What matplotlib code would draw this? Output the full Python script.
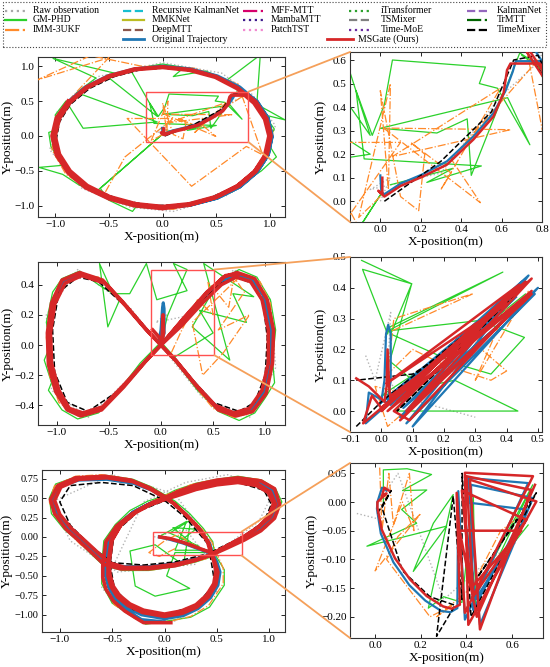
import numpy as np
import matplotlib.pyplot as plt
from matplotlib.lines import Line2D
from matplotlib.patches import Rectangle, ConnectionPatch

plt.rcParams['font.family'] = ['Liberation Serif', 'DejaVu Serif']

# ---------------- row 1 : circle ----------------
truth_1 = [(0.0, 0.11), (0.005, 0.04), (0.02, 0.03), (0.10, 0.075), (0.21, 0.115), (0.33, 0.17), (0.46, 0.275),
           (0.56, 0.375), (0.62, 0.47), (0.655, 0.55), (0.67, 0.595), (0.79, 0.595), (0.88, 0.5), (0.985, 0.25),
           (1.02, -0.01), (0.985, -0.27), (0.88, -0.52), (0.72, -0.73), (0.51, -0.89), (0.26, -0.99), (0.0, -1.03),
           (-0.26, -0.99), (-0.51, -0.89), (-0.72, -0.73), (-0.88, -0.52), (-0.985, -0.27), (-1.02, -0.01),
           (-0.985, 0.25), (-0.88, 0.49), (-0.72, 0.70), (-0.51, 0.86), (-0.26, 0.96), (0.0, 1.0), (0.26, 0.96),
           (0.51, 0.86), (0.72, 0.70), (0.88, 0.49), (0.985, 0.25), (1.02, -0.01), (0.985, -0.27), (0.88, -0.52),
           (0.72, -0.73), (0.51, -0.89), (0.26, -0.99), (0.0, -1.03), (-0.26, -0.99)]
msgate_1 = [(0.01, 0.10), (0.01, 0.03), (-0.01, 0.045), (0.02, 0.02), (0.10, 0.065), (0.21, 0.105), (0.33, 0.156),
            (0.46, 0.262), (0.56, 0.36), (0.61, 0.46), (0.627, 0.557), (0.644, 0.585), (0.79, 0.585), (0.87, 0.49),
            (0.97, 0.25), (1.01, 0.0), (0.975, -0.26), (0.87, -0.51), (0.71, -0.72), (0.5, -0.88), (0.26, -0.98),
            (0.0, -1.02), (-0.26, -0.98), (-0.5, -0.88), (-0.71, -0.72), (-0.87, -0.51), (-0.97, -0.26), (-1.01, 0.0),
            (-0.97, 0.25), (-0.87, 0.49), (-0.71, 0.7), (-0.5, 0.86), (-0.26, 0.96), (0.0, 0.99), (0.26, 0.95),
            (0.5, 0.85), (0.7, 0.69), (0.86, 0.48), (0.96, 0.24), (1.0, -0.01), (0.965, -0.27), (0.86, -0.5),
            (0.7, -0.71), (0.49, -0.87), (0.25, -0.97), (0.0, -1.01), (-0.25, -0.97), (-0.49, -0.87), (-0.7, -0.71),
            (-0.86, -0.5), (-0.96, -0.26), (-1.0, 0.0), (-0.96, 0.25), (-0.86, 0.48), (-0.7, 0.69), (-0.49, 0.85),
            (-0.25, 0.95), (0.0, 0.98), (0.25, 0.94), (0.49, 0.84), (0.69, 0.68), (0.85, 0.47), (0.95, 0.24),
            (0.99, 0.0), (0.95, -0.28), (0.85, -0.52), (0.69, -0.72), (0.49, -0.88), (0.25, -0.99), (0.0, -1.04),
            (-0.26, -1.0), (-0.5, -0.9), (-0.72, -0.74), (-0.88, -0.53), (-0.99, -0.27), (-1.03, 0.0),
            (-0.99, 0.26), (-0.88, 0.5)]
timemixer_1 = [(0.02, 0.0), (0.3, 0.17), (0.55, 0.38), (0.66, 0.6), (0.78, 0.62), (0.93, 0.35), (0.99, 0.05),
               (0.96, -0.25), (0.85, -0.5), (0.68, -0.72), (0.45, -0.88), (0.2, -0.98), (-0.1, -1.0), (-0.4, -0.91),
               (-0.66, -0.75), (-0.85, -0.55), (-0.96, -0.3), (-0.99, -0.05), (-0.96, 0.2), (-0.86, 0.45),
               (-0.68, 0.68), (-0.45, 0.85), (-0.2, 0.95), (0.1, 0.98), (0.4, 0.9), (0.65, 0.72), (0.82, 0.52),
               (0.95, 0.3)]
gmphd_1 = [(0.05, 0.07), (0.36, 0.14), (0.23, 0.08), (0.50, 0.15), (-0.08, 0.18), (-0.12, 0.47), (-0.04, 0.28),
           (0.02, 0.41), (0.06, 0.60), (0.52, 0.57), (0.49, 0.50), (0.58, 0.48), (0.74, 0.24), (0.63, 0.44),
           (0.0, 0.31), (0.28, 0.29), (0.43, 0.35), (0.45, 0.11), (0.69, 0.63), (0.78, 0.58), (0.81, 0.51),
           (1.14, 0.23), (0.95, 0.3), (1.04, 0.1), (0.98, -0.1), (1.06, -0.3), (0.92, -0.5), (0.8, -0.62),
           (0.65, -0.8), (0.45, -0.9), (0.28, -0.97), (0.05, -1.04), (-0.25, -1.02), (-0.28, -1.08), (-0.5, -0.92),
           (-0.58, -0.75), (0.01, 0.04), (-0.62, -0.8), (-0.78, -0.7), (-0.93, -0.55), (-1.15, -0.45),
           (-0.93, -0.42), (-1.04, -0.15), (-1.06, 0.05), (-0.97, 0.1), (-1.0, 0.3), (-0.9, 0.5), (-0.74, 0.11),
           (-0.05, 0.2), (-0.8, 0.62), (-0.62, 0.83), (-1.02, 1.11), (-0.45, 0.9), (-0.49, 0.82), (-0.05, 0.28),
           (-0.3, 0.95), (0.0, 1.03), (0.2, 0.98), (0.1, 0.85), (0.4, 0.93), (0.6, 0.8), (0.91, 1.16), (0.88, 0.51),
           (0.7, 0.62)]
imm_1 = [(0.0, 0.02), (-0.107, -0.069), (0.05, 0.50), (0.04, 0.05), (0.0, 0.47), (0.1, 0.02), (0.19, -0.04),
         (0.22, 0.2), (0.15, 0.25), (0.35, 0.12), (0.3, 0.05), (0.594, 0.48), (0.06, 0.19), (0.644, 0.304),
         (0.016, 0.311), (0.495, -0.006), (0.35, 0.18), (0.78, 0.6), (0.95, 0.35), (1.03, 0.05), (0.97, -0.3),
         (0.78, -0.15), (0.27, -0.72), (-0.33, 0.25), (0.1, 0.25), (-0.35, -0.3), (-0.55, -0.85), (-0.3, -1.0),
         (0.1, -1.05), (0.5, -0.9), (0.8, -0.65), (0.95, -0.35), (0.7, 0.75), (0.3, 0.97), (-0.2, 1.0),
         (-0.67, 1.15), (-1.17, 0.8), (-0.5, 1.12), (-0.85, 0.55), (-1.0, 0.2), (-1.03, -0.2), (-0.9, -0.55),
         (-0.65, -0.8)]
raw_1 = [(0.0, 0.0), (0.05, 0.1), (-0.05, 0.05), (0.3, 0.12), (0.6, 0.45), (0.82, 0.62), (1.05, 0.15),
         (0.95, -0.4), (0.6, -0.85), (0.1, -1.08), (-0.3, -1.02), (-0.75, -0.75), (-1.05, -0.2), (-0.98, 0.35),
         (-0.6, 0.85), (0.0, 1.05), (0.55, 0.9), (0.9, 0.5)]

# ---------------- row 2 : figure eight ----------------
truth_2 = [(-0.02, 0.02), (0.0, 0.1), (0.015, 0.25), (0.022, 0.28), (0.03, 0.24), (0.03, 0.08), (0.0, 0.0),
           (0.2, 0.15), (0.4, 0.3), (0.58, 0.42), (0.72, 0.47), (0.88, 0.44), (1.0, 0.32), (1.06, 0.12),
           (1.06, -0.1), (1.0, -0.3), (0.88, -0.43), (0.72, -0.46), (0.55, -0.42), (0.35, -0.28), (0.15, -0.11),
           (0.0, 0.0), (-0.15, 0.11), (-0.35, 0.27), (-0.55, 0.42), (-0.77, 0.47), (-0.93, 0.42), (-1.03, 0.28),
           (-1.08, 0.08), (-1.07, -0.12), (-1.0, -0.3), (-0.9, -0.42), (-0.77, -0.46), (-0.57, -0.42),
           (-0.35, -0.27), (-0.15, -0.11), (0.0, 0.0), (0.22, 0.16), (0.42, 0.32), (0.6, 0.44), (0.72, 0.47),
           (0.86, 0.44), (0.98, 0.33), (1.04, 0.12), (1.05, -0.12), (0.98, -0.32), (0.86, -0.44), (0.7, -0.46),
           (0.52, -0.4), (0.33, -0.26), (0.14, -0.1), (0.0, 0.0)]
msgate_2 = [(-0.08, 0.1), (0.01, 0.03), (0.02, 0.2), (0.025, 0.08), (0.0, 0.0), (0.2, 0.16), (0.42, 0.33),
            (0.6, 0.45), (0.73, 0.48), (0.9, 0.44), (1.02, 0.3), (1.08, 0.1), (1.07, -0.12), (1.01, -0.32),
            (0.88, -0.44), (0.72, -0.47), (0.55, -0.43), (0.35, -0.28), (0.15, -0.11), (0.0, 0.0), (-0.15, 0.11),
            (-0.36, 0.28), (-0.56, 0.43), (-0.78, 0.48), (-0.95, 0.43), (-1.05, 0.28), (-1.09, 0.08),
            (-1.08, -0.13), (-1.01, -0.31), (-0.9, -0.43), (-0.77, -0.47), (-0.57, -0.43), (-0.36, -0.28),
            (-0.15, -0.11), (0.0, 0.0), (0.2, 0.13), (0.4, 0.28), (0.58, 0.4), (0.72, 0.45), (0.86, 0.42),
            (0.97, 0.3), (1.03, 0.1), (1.03, -0.12), (0.97, -0.3), (0.85, -0.42), (0.7, -0.45), (0.52, -0.4),
            (0.33, -0.26), (0.14, -0.1), (0.0, 0.0), (-0.14, 0.1), (-0.34, 0.26), (-0.54, 0.41), (-0.76, 0.46),
            (-0.92, 0.41), (-1.02, 0.27), (-1.06, 0.08), (-1.05, -0.12), (-0.98, -0.3), (-0.88, -0.42),
            (-0.75, -0.45), (-0.56, -0.41), (-0.35, -0.26), (-0.14, -0.1), (0.0, 0.0), (0.22, 0.18), (0.44, 0.35),
            (0.62, 0.46), (0.74, 0.47)]
timemixer_2 = [(-0.02, -0.02), (0.3, 0.22), (0.55, 0.4), (0.72, 0.45), (0.87, 0.41), (0.98, 0.28), (1.02, 0.05),
               (1.0, -0.2), (0.9, -0.38), (0.75, -0.44), (0.5, -0.38), (0.2, -0.15), (0.0, 0.0), (-0.3, 0.23),
               (-0.6, 0.42), (-0.8, 0.45), (-0.98, 0.35), (-1.04, 0.1), (-1.02, -0.18), (-0.9, -0.38),
               (-0.7, -0.44), (-0.4, -0.3), (-0.1, -0.07)]
gmphd_2 = [(0.0, 0.0), (0.06, 0.19), (0.25, 0.5), (0.12, 0.54), (0.25, 0.36), (-0.04, 0.3), (-0.14, 0.54),
           (-0.3, 0.34), (-0.46, 0.34), (-0.59, 0.54), (-0.51, 0.12), (-0.39, 0.31), (-0.6, 0.4), (-0.78, 0.49),
           (-0.95, 0.44), (-1.04, 0.35), (-1.1, 0.15), (-1.06, 0.0), (-1.12, -0.1), (-1.05, -0.25), (-1.08, -0.3),
           (-0.95, -0.43), (-0.8, -0.49), (-0.6, -0.45), (-0.4, -0.3), (-0.2, -0.12), (0.0, 0.02), (0.13, -0.08),
           (0.5, 0.08), (0.37, 0.23), (0.82, 0.15), (0.69, 0.34), (0.89, 0.32), (0.41, 0.54), (0.66, -0.1),
           (0.3, 0.12), (0.55, 0.42), (0.75, 0.5), (0.92, 0.45), (1.05, 0.3), (1.1, 0.1), (1.07, -0.1),
           (1.09, -0.25), (1.0, -0.35), (0.9, -0.45), (0.75, -0.5), (0.55, -0.44), (0.35, -0.3), (0.15, -0.12),
           (0.0, 0.0)]
imm_2 = [(0.1, -0.05), (0.2, 0.1), (0.35, 0.3), (0.5, 0.2), (0.45, 0.42), (0.65, 0.25), (0.7, 0.45), (0.8, 0.35),
         (0.55, 0.1), (0.85, 0.2), (0.6, -0.05), (0.4, -0.2), (0.3, 0.15), (0.75, 0.45), (0.95, 0.42),
         (1.05, 0.28), (1.08, 0.05), (1.05, -0.2), (1.0, -0.33), (0.87, -0.45), (0.7, -0.48), (0.5, -0.42),
         (0.3, -0.25), (0.1, -0.08), (-0.1, 0.08), (-0.4, 0.3), (-0.6, 0.45), (-0.8, 0.47), (-0.97, 0.42),
         (-1.06, 0.25), (-1.1, 0.05), (-1.07, -0.2), (-0.98, -0.38), (-0.8, -0.47), (-0.6, -0.44),
         (-0.35, -0.28), (-0.1, -0.08)]
raw_2 = [(0.0, 0.0), (0.05, 0.2), (-0.05, 0.15), (0.3, 0.2), (0.7, 0.5), (1.05, 0.3), (1.1, -0.15), (0.85, -0.48),
         (0.4, -0.35), (-0.3, 0.25), (-0.8, 0.5), (-1.1, 0.2), (-1.05, -0.3), (-0.7, -0.48), (-0.2, -0.15)]

# zoomed detail of row 2
truth_2z = [(0.0, 0.03), (0.01, 0.10), (0.015, 0.25), (0.022, 0.28), (0.03, 0.25), (0.03, 0.10), (0.02, 0.03),
            (0.47, 0.44), (0.10, -0.05), (0.50, 0.40), (0.06, -0.02), (0.44, 0.40), (-0.01, 0.02), (0.40, 0.36),
            (-0.05, -0.04), (-0.04, 0.06), (0.03, 0.02), (0.45, 0.42), (0.08, -0.04), (0.49, 0.38),
            (0.07, 0.01), (0.43, 0.37)]
msgate_2z = [(-0.08, 0.106), (-0.04, 0.08), (0.01, 0.03), (0.017, 0.08), (0.02, 0.2), (0.025, 0.08), (0.03, 0.03),
             (0.0, 0.0), (0.48, 0.43), (0.06, -0.03), (0.48, 0.38), (0.02, 0.0), (0.44, 0.41), (0.017, 0.09),
             (0.40, 0.35), (-0.058, -0.04), (-0.03, 0.05), (0.0, 0.01), (0.46, 0.42), (0.04, 0.0), (0.09, -0.03),
             (0.48, 0.39), (0.05, 0.03), (0.42, 0.39), (0.08, 0.0), (0.47, 0.37), (0.03, 0.05), (0.10, 0.08),
             (0.3, 0.28)]
timemixer_2z = [(-0.08, -0.05), (0.0, 0.03), (0.45, 0.40), (0.05, 0.0), (0.30, 0.25), (0.10, 0.12),
                (-0.08, 0.10)]
gmphd_2z = [(-0.063, 0.489), (0.097, 0.413), (-0.06, 0.46), (0.02, 0.25), (0.027, 0.273), (0.388, 0.451),
            (0.02, 0.26), (0.314, 0.294), (0.457, 0.239), (0.35, 0.12), (0.25, 0.15), (0.03, 0.25), (0.097, 0.413),
            (0.027, 0.162), (0.10, 0.10), (0.049, 0.0), (0.436, 0.0), (0.234, 0.1), (0.0, 0.05), (0.3, 0.25),
            (0.46, 0.38)]
imm_2z = [(0.038, 0.262), (0.293, 0.381), (0.04, 0.3), (0.02, 0.12), (0.1, 0.2), (0.2, 0.15), (0.35, 0.1),
          (0.4, 0.13), (0.32, 0.2), (0.1, 0.05), (-0.02, 0.08), (0.02, -0.05), (0.25, 0.15), (0.42, 0.38),
          (0.3, 0.1), (0.47, 0.39)]
raw_2z = [(-0.05, 0.18), (-0.02, 0.1), (0.03, 0.32), (0.02, 0.12), (0.05, 0.05), (0.3, -0.02)]

# ---------------- row 3 : trefoil ----------------
truth_3 = [(-0.05, 0.0), (0.05, -0.03), (0.18, -0.08), (0.32, -0.15), (0.46, -0.22), (0.6, -0.12), (0.75, -0.02),
           (0.9, 0.1), (1.03, 0.25), (1.085, 0.42), (1.03, 0.6), (0.9, 0.7), (0.7, 0.74), (0.5, 0.71), (0.3, 0.65),
           (0.12, 0.57), (0.0, 0.5), (-0.14, 0.43), (-0.3, 0.32), (-0.44, 0.16), (-0.53, -0.05), (-0.56, -0.36),
           (-0.56, -0.5), (-0.53, -0.65), (-0.47, -0.78), (-0.37, -0.9), (-0.22, -1.0), (0.0, -1.05),
           (0.18, -1.01), (0.32, -0.92), (0.44, -0.78), (0.51, -0.62), (0.53, -0.45), (0.5, -0.32), (0.46, -0.22),
           (0.43, -0.08), (0.34, 0.1), (0.22, 0.27), (0.1, 0.42), (0.0, 0.5), (-0.12, 0.6), (-0.3, 0.69),
           (-0.55, 0.74), (-0.82, 0.73), (-1.0, 0.65), (-1.07, 0.48), (-1.03, 0.3), (-0.92, 0.12), (-0.78, -0.05),
           (-0.66, -0.2), (-0.56, -0.32), (-0.4, -0.38), (-0.15, -0.38), (0.1, -0.34), (0.3, -0.28),
           (0.46, -0.22), (0.6, -0.12), (0.75, -0.02), (0.9, 0.1), (1.03, 0.25), (1.085, 0.42), (1.03, 0.6),
           (0.9, 0.7), (0.7, 0.74), (0.5, 0.71), (0.3, 0.65), (0.12, 0.57), (0.0, 0.5), (-0.14, 0.43),
           (-0.3, 0.32), (-0.44, 0.16), (-0.53, -0.05), (-0.56, -0.36), (-0.56, -0.5), (-0.53, -0.65),
           (-0.47, -0.8), (-0.36, -0.94), (-0.22, -1.06), (0.0, -1.09)]
msgate_3 = [(-0.045, 0.0), (0.05, -0.02), (0.18, -0.07), (0.32, -0.14), (0.46, -0.21), (0.6, -0.11), (0.75, 0.0),
            (0.89, 0.12), (1.01, 0.26), (1.06, 0.42), (1.01, 0.58), (0.89, 0.68), (0.7, 0.72), (0.5, 0.69),
            (0.3, 0.63), (0.12, 0.55), (0.0, 0.49), (-0.13, 0.42), (-0.28, 0.31), (-0.42, 0.15), (-0.51, -0.05),
            (-0.54, -0.35), (-0.54, -0.5), (-0.51, -0.64), (-0.45, -0.77), (-0.35, -0.88), (-0.21, -0.97),
            (0.0, -1.02), (0.17, -0.98), (0.31, -0.9), (0.42, -0.77), (0.49, -0.61), (0.51, -0.45), (0.48, -0.32),
            (0.45, -0.21), (0.42, -0.07), (0.33, 0.11), (0.21, 0.28), (0.09, 0.43), (-0.01, 0.51), (-0.13, 0.61),
            (-0.3, 0.71), (-0.55, 0.76), (-0.82, 0.74), (-0.99, 0.64), (-1.05, 0.47), (-1.0, 0.29), (-0.89, 0.11),
            (-0.75, -0.06), (-0.63, -0.21), (-0.53, -0.33), (-0.38, -0.39), (-0.14, -0.39), (0.1, -0.35),
            (0.3, -0.29), (0.45, -0.23), (0.6, -0.14), (0.76, -0.04), (0.92, 0.08), (1.05, 0.24), (1.1, 0.42),
            (1.05, 0.62), (0.92, 0.72), (0.7, 0.76), (0.5, 0.73), (0.3, 0.67), (0.12, 0.58), (0.01, 0.51),
            (-0.12, 0.44), (-0.27, 0.33), (-0.41, 0.17), (-0.5, -0.04), (-0.53, -0.34), (-0.52, -0.49),
            (-0.49, -0.63), (-0.43, -0.75), (-0.33, -0.86), (-0.2, -0.94), (0.0, -0.99), (0.16, -0.95),
            (0.3, -0.87), (0.4, -0.75), (0.47, -0.6), (0.49, -0.44), (0.47, -0.31), (0.44, -0.2), (0.41, -0.06),
            (0.32, 0.12), (0.2, 0.29), (0.08, 0.44), (0.0, 0.52), (-0.14, 0.63), (-0.32, 0.73), (-0.57, 0.78),
            (-0.85, 0.76), (-1.02, 0.66), (-1.09, 0.48), (-1.05, 0.3), (-0.94, 0.1), (-0.8, -0.07), (-0.68, -0.22),
            (-0.58, -0.35), (-0.42, -0.41), (-0.16, -0.41), (0.1, -0.37), (0.3, -0.3), (0.46, -0.22), (0.62, -0.1),
            (0.77, 0.01), (0.9, 0.13), (1.0, 0.28), (1.04, 0.43), (0.99, 0.57), (0.88, 0.66), (0.7, 0.7),
            (0.5, 0.67), (0.3, 0.61), (0.12, 0.53), (0.0, 0.48), (-0.15, 0.41), (-0.31, 0.3), (-0.46, 0.14),
            (-0.56, -0.06), (-0.59, -0.37), (-0.59, -0.52), (-0.56, -0.67), (-0.49, -0.82), (-0.38, -0.95),
            (-0.25, -1.06), (-0.2, -1.1), (0.06, -1.1)]
timemixer_3 = [(0.0, 0.0), (0.45, -0.19), (0.74, 0.0), (0.95, 0.2), (1.02, 0.42), (0.95, 0.6), (0.7, 0.7),
               (0.4, 0.65), (0.1, 0.52), (-0.25, 0.33), (-0.48, 0.05), (-0.52, -0.35), (-0.48, -0.65),
               (-0.3, -0.93), (0.0, -1.0), (0.3, -0.88), (0.48, -0.6), (0.42, -0.1), (0.2, 0.25), (0.0, 0.47),
               (-0.3, 0.66), (-0.6, 0.7), (-0.9, 0.66), (-1.0, 0.45), (-0.9, 0.15), (-0.7, -0.12), (-0.5, -0.33),
               (-0.2, -0.36), (0.1, -0.32), (0.4, -0.22)]
gmphd_3 = [(-0.03, 0.02), (0.21, 0.2), (0.1, -0.17), (0.34, -0.17), (0.08, 0.12), (0.3, 0.1), (0.15, -0.05),
           (0.33, -0.12), (0.05, 0.05), (0.25, 0.22), (0.18, -0.36), (-0.09, -0.1), (-0.33, -0.18), (-0.28, -0.63),
           (-0.09, -0.76), (0.24, -0.66), (0.02, -0.5), (0.1, -0.2), (0.47, -0.2), (0.62, -0.1), (0.78, 0.0),
           (0.95, 0.12), (1.05, 0.28), (1.12, 0.45), (1.06, 0.62), (0.93, 0.73), (0.7, 0.78), (0.5, 0.74),
           (0.3, 0.69), (0.1, 0.6), (-0.02, 0.52), (-0.16, 0.46), (-0.33, 0.34), (-0.47, 0.16), (-0.58, -0.05),
           (-0.6, -0.37), (-0.6, -0.6), (-0.5, -0.85), (-0.3, -1.03), (-0.18, -1.12), (0.02, -1.08), (0.25, -1.03),
           (0.43, -0.9), (0.57, -0.62), (0.57, -0.42), (0.48, -0.22), (0.46, -0.06), (0.37, 0.11), (0.24, 0.3),
           (0.1, 0.46), (-0.12, 0.64), (-0.3, 0.74), (-0.55, 0.79), (-0.85, 0.77), (-1.04, 0.68), (-1.1, 0.5),
           (-1.08, 0.3), (-0.96, 0.1), (-0.82, -0.06), (-0.7, -0.22), (-0.58, -0.37), (-0.4, -0.43),
           (-0.15, -0.43), (0.1, -0.38), (0.3, -0.32), (0.46, -0.25)]
imm_3 = [(0.1, -0.15), (-0.05, -0.25), (-0.15, -0.2), (0.0, -0.05), (0.12, 0.03), (0.45, -0.24), (0.6, -0.14),
         (0.8, 0.0), (0.97, 0.12), (1.08, 0.3), (1.1, 0.48), (1.05, 0.63), (0.9, 0.74), (0.7, 0.77), (0.45, 0.73),
         (0.25, 0.67), (0.05, 0.56), (-0.1, 0.47), (-0.28, 0.35), (-0.45, 0.17), (-0.56, -0.04), (-0.59, -0.4),
         (-0.57, -0.65), (-0.48, -0.87), (-0.28, -1.05), (0.0, -1.1), (0.25, -1.02), (0.42, -0.88), (0.56, -0.6),
         (0.56, -0.4), (0.45, -0.06), (0.35, 0.12), (0.2, 0.3), (0.05, 0.47), (-0.13, 0.64), (-0.35, 0.75),
         (-0.6, 0.8), (-0.85, 0.78), (-1.05, 0.66), (-1.1, 0.45), (-1.05, 0.28), (-0.93, 0.08), (-0.8, -0.1),
         (-0.62, -0.28), (-0.4, -0.42), (-0.1, -0.42), (0.2, -0.35), (0.45, -0.26)]
raw_3 = [(-0.1, 0.0), (0.2, 0.1), (0.4, -0.25), (0.6, -0.1), (0.9, 0.2), (1.05, 0.6), (0.6, 0.8), (0.2, 0.7),
         (-0.2, 0.45), (-0.5, -0.4), (-0.6, -0.65), (-0.4, -0.95), (0.1, -1.08), (0.5, -0.7), (0.45, -0.1),
         (0.1, 0.55), (-0.5, 0.8), (-1.08, 0.45), (-0.9, -0.05), (-0.45, -0.45), (0.3, -0.35)]

# zoomed detail of row 3
truth_3z = [(0.05, 0.02), (0.03, 0.025), (0.01, 0.0), (0.008, -0.012), (0.025, -0.055), (0.08, -0.105),
            (0.15, -0.145), (0.22, -0.172), (0.29, -0.19), (0.33, -0.192), (0.36, -0.185), (0.364, 0.019),
            (0.393, -0.205), (0.67, 0.033), (0.408, 0.042), (0.459, -0.214), (0.691, 0.007), (0.42, 0.03),
            (0.429, -0.188), (0.662, -0.013), (0.385, 0.0), (0.44, -0.17), (0.64, -0.04)]
msgate_3z = [(0.06, 0.02), (0.04, 0.025), (0.03, 0.01), (0.05, 0.015), (0.01, 0.0), (0.01, -0.01), (0.029, -0.048),
             (0.087, -0.098), (0.153, -0.135), (0.226, -0.164), (0.298, -0.182), (0.335, -0.186), (0.371, -0.179),
             (0.357, 0.016), (0.393, -0.193), (0.691, 0.045), (0.393, 0.051), (0.408, -0.214), (0.706, 0.001),
             (0.415, 0.039), (0.459, -0.222), (0.684, 0.021), (0.40, 0.045), (0.43, -0.164), (0.662, -0.031),
             (0.38, 0.02), (0.42, -0.15), (0.64, -0.05), (0.37, -0.05), (0.445, -0.2), (0.70, 0.03)]
timemixer_3z = [(0.01, -0.02), (0.07, 0.02), (0.03, -0.01), (0.12, -0.12), (0.24, -0.165), (0.35, -0.18),
                (0.269, -0.234), (0.342, 0.01), (0.38, -0.17), (0.381, 0.05), (0.42, -0.2), (0.706, 0.016),
                (0.45, -0.13), (0.62, -0.03)]
gmphd_3z = [(0.036, 0.0), (0.036, 0.056), (0.14, 0.058), (0.247, 0.048), (0.12, 0.02), (0.226, 0.021),
            (0.116, -0.013), (0.182, -0.037), (-0.036, -0.077), (0.313, -0.042), (0.167, -0.121), (0.255, -0.037),
            (0.342, 0.013), (0.233, -0.185), (0.30, -0.165), (0.38, -0.175), (0.43, 0.01), (0.44, -0.18),
            (0.69, 0.03), (0.45, -0.15), (0.67, -0.04)]
imm_3z = [(0.02, 0.06), (0.03, -0.05), (0.06, 0.05), (0.08, -0.04), (0.15, 0.05), (0.17, -0.05), (0.12, 0.0),
          (0.0, -0.12), (0.2, -0.02), (0.1, -0.06), (0.05, -0.1), (0.24, -0.2), (0.34, -0.18), (0.27, -0.2),
          (0.42, -0.15), (0.55, -0.05), (0.65, -0.02)]
raw_3z = [(-0.08, -0.02), (0.02, -0.03), (0.05, 0.02), (0.1, 0.05), (0.3, -0.17), (0.5, -0.1), (0.62, -0.07)]

# axis ranges / ticks (left panel, zoom panel)
xlim_l = [(-1.16, 1.14), (-1.18, 1.19), (-1.17, 1.15)]
ylim_l = [(-1.16, 1.13), (-0.53, 0.55), (-1.22, 0.86)]
xlim_r = [(-0.15, 0.8), (-0.1, 0.513), (-0.11, 0.735)]
ylim_r = [(-0.088, 0.634), (-0.068, 0.5), (-0.237, 0.068)]
xt_l = [[-1.0, -0.5, 0.0, 0.5, 1.0]] * 3
yt_l = [[-1.0, -0.5, 0.0, 0.5, 1.0], [-0.4, -0.2, 0.0, 0.2, 0.4], [-1.0, -0.75, -0.5, -0.25, 0.0, 0.25, 0.5, 0.75]]
xt_r = [[0.0, 0.2, 0.4, 0.6, 0.8], [-0.1, 0.0, 0.1, 0.2, 0.3, 0.4, 0.5], [0.0, 0.2, 0.4, 0.6]]
yt_r = [[0.0, 0.1, 0.2, 0.3, 0.4, 0.5, 0.6], [0.0, 0.1, 0.2, 0.3, 0.4, 0.5],
        [-0.2, -0.15, -0.1, -0.05, 0.0, 0.05]]
yfmt = ['{:.1f}', '{:.1f}', '{:.2f}']

rows_left = [
    dict(raw=raw_1, gmphd=gmphd_1, imm=imm_1, truth=truth_1, timemixer=timemixer_1, msgate=msgate_1),
    dict(raw=raw_2, gmphd=gmphd_2, imm=imm_2, truth=truth_2, timemixer=timemixer_2, msgate=msgate_2),
    dict(raw=raw_3, gmphd=gmphd_3, imm=imm_3, truth=truth_3, timemixer=timemixer_3, msgate=msgate_3),
]
rows_right = [
    rows_left[0],
    dict(raw=raw_2z, gmphd=gmphd_2z, imm=imm_2z, truth=truth_2z, timemixer=timemixer_2z, msgate=msgate_2z),
    dict(raw=raw_3z, gmphd=gmphd_3z, imm=imm_3z, truth=truth_3z, timemixer=timemixer_3z, msgate=msgate_3z),
]

style = {
    'raw': dict(color='#b4b4b4', ls=':', lw=1.0, zorder=1),
    'gmphd': dict(color='#2bd12b', ls='-', lw=0.9, zorder=2),
    'imm': dict(color='#ff8a2a', ls='-.', lw=0.9, zorder=3),
    'truth': dict(color='#1f77b4', ls='-', zorder=4),
    'timemixer': dict(color='black', ls='--', lw=1.1, zorder=4.5),
    'msgate': dict(color='#d62728', ls='-', zorder=5),
}
lw_left = {'truth': 2.2, 'msgate': 2.6}
lw_zoom = {'truth': 1.6, 'msgate': 1.8}

fig = plt.figure(figsize=(5.5, 6.67), dpi=100)
W, H = 550, 667
pos_l = [(38, 57, 285, 217), (38, 262, 285, 425), (42, 470, 285, 632)]
pos_r = [(350, 52, 542, 222), (350, 257, 542, 432), (350, 463, 543, 638)]
ylab_l = [14, 14, 13]
ylab_r = [327, 327, 318]
ytick_size_l = [8, 8, 7.5]


def make_ax(box):
    x0, y0, x1, y1 = box
    return fig.add_axes([x0 / W, 1 - y1 / H, (x1 - x0) / W, (y1 - y0) / H])


def draw(ax, series, widths, xl, yl, xt, yt, fmt, box, ylab_px, ysize):
    for key, pts in series.items():
        p = np.array(pts)
        kw = dict(style[key])
        if key in widths:
            kw['lw'] = widths[key]
        ax.plot(p[:, 0], p[:, 1], **kw)
    ax.set_xlim(xl)
    ax.set_ylim(yl)
    ax.set_xticks(xt)
    ax.set_xticklabels(['{:.1f}'.format(v).replace('-', '\u2212') for v in xt])
    ax.set_yticks(yt)
    ax.set_yticklabels([fmt.format(v).replace('-', '\u2212') for v in yt])
    ax.tick_params(direction='in', top=True, right=True, labelsize=8, length=3, width=0.6, pad=2.5)
    ax.tick_params(axis='y', labelsize=ysize)
    for s in ax.spines.values():
        s.set_linewidth(0.8)
        s.set_color('#333333')
    ax.set_xlabel('X-position(m)', fontsize=9.5, labelpad=1)
    ax.set_ylabel('Y-position(m)', fontsize=9.5)
    ax.yaxis.set_label_coords((ylab_px - box[0]) / (box[2] - box[0]), 0.5)


for i in range(3):
    axl = make_ax(pos_l[i])
    axr = make_ax(pos_r[i])
    draw(axl, rows_left[i], lw_left, xlim_l[i], ylim_l[i], xt_l[i], yt_l[i], yfmt[i], pos_l[i], ylab_l[i],
         ytick_size_l[i])
    draw(axr, rows_right[i], lw_zoom, xlim_r[i], ylim_r[i], xt_r[i], yt_r[i], yfmt[i], pos_r[i], ylab_r[i], 8)
    rx0, rx1 = xlim_r[i]
    ry0, ry1 = ylim_r[i]
    axl.add_patch(Rectangle((rx0, ry0), rx1 - rx0, ry1 - ry0, fill=False, ec='#ff5050', lw=1.0, zorder=10))
    for ya, yb in [(ry1, 1), (ry0, 0)]:
        con = ConnectionPatch(xyA=(rx1, ya), coordsA=axl.transData, xyB=(0, yb), coordsB=axr.transAxes,
                              color='#f5a05a', lw=1.3, zorder=20)
        fig.add_artist(con)

# legend, laid out by hand in pixel positions like the original
legend_cols = [
    [('Raw observation', '#a8a8a8', ':'), ('GM-PHD', '#2bd12b', '-'), ('IMM-3UKF', '#ff8a2a', '-.')],
    [('Recursive KalmanNet', '#17becf', '--'), ('MMKNet', '#bcbd22', '-'), ('DeepMTT', '#8c564b', '--'),
     ('Original Trajectory', '#1f77b4', '-')],
    [('MFF-MTT', '#d6006b', '-.'), ('MambaMTT', '#3d1a8c', ':'), ('PatchTST', '#f08ad0', ':')],
    [('iTransformer', '#2ca02c', ':'), ('TSMixer', '#808080', '--'), ('Time-MoE', '#6a2ca0', ':')],
    [('KalmanNet', '#9467bd', '--'), ('TrMTT', '#006400', '-.'), ('TimeMixer', 'black', '--')],
]
col_handle_x = [5, 123, 243, 349, 467]
col_text_x = [33, 152, 271, 381, 497]
row_y = [10.6, 20.0, 29.6, 39.2]


def legend_entry(x0, x1, xt, y, label, color, ls, lw):
    fig.add_artist(Line2D([x0 / W, x1 / W], [1 - y / H, 1 - y / H], color=color, ls=ls, lw=lw,
                          transform=fig.transFigure))
    fig.text(xt / W, 1 - y / H, label, fontsize=7, va='center', ha='left')


for c, entries in enumerate(legend_cols):
    for r, (lab, col, ls) in enumerate(entries):
        legend_entry(col_handle_x[c], col_handle_x[c] + 21, col_text_x[c], row_y[r], lab, col, ls,
                     2.0 if lab == 'Original Trajectory' else 1.6)
legend_entry(327, 353, 358, row_y[3], 'MSGate (Ours)', '#d62728', '-', 2.0)
fig.add_artist(Rectangle((3 / W, 1 - 46.5 / H), 543 / W, 44.5 / H, transform=fig.transFigure, fill=False,
                         ls=':', lw=0.8, ec='#444444'))

fig.savefig('out.png', dpi=100)
